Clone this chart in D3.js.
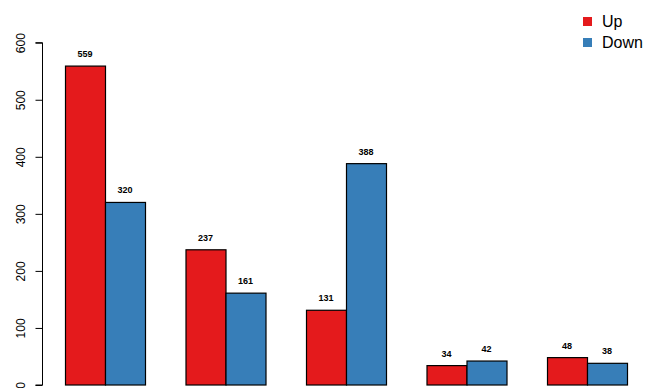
<!DOCTYPE html>
<html>
<head>
<meta charset="utf-8">
<script src="https://d3js.org/d3.v7.min.js"></script>
<style>
  body { margin: 0; background: #fff; }
  svg { display: block; font-family: "Liberation Sans", Arial, sans-serif; }
</style>
</head>
<body>
<svg id="chart" width="646" height="388"></svg>
<script>
// data
const groups = ["g1", "g2", "g3", "g4", "g5"];
const series = ["Up", "Down"];
const upValues = [559, 237, 131, 34, 48];
const downValues = [320, 161, 388, 42, 38];
const yTicks = [0, 100, 200, 300, 400, 500, 600];
const colors = ["#E41A1C", "#377EB8"];

const svg = d3.select("#chart");

const y = d3.scaleLinear().domain([0, 600]).range([385, 42.7]);
// group positions: 2 bars of 40px + 40px gap
const x0 = d3.scalePoint().domain(groups).range([65, 547]);
const x1 = d3.scaleBand().domain(series).range([0, 80]);

const data = groups.map((g, i) => ({ g, i, vals: [upValues[i], downValues[i]] }));

const gg = svg.selectAll("g.grp").data(data).enter().append("g")
  .attr("class", "grp")
  .attr("transform", d => `translate(${x0(d.g)},0)`);

gg.selectAll("rect").data(d => d.vals.map((v, k) => ({ v, k })))
  .enter().append("rect")
  .attr("x", d => x1(series[d.k]) + 0.5)
  .attr("y", d => y(d.v))
  .attr("width", x1.bandwidth())
  .attr("height", d => y(0) - y(d.v))
  .attr("fill", d => colors[d.k])
  .attr("stroke", "#000")
  .attr("stroke-width", 1.2);

gg.selectAll("text").data(d => d.vals.map((v, k) => ({ v, k })))
  .enter().append("text")
  .attr("x", d => x1(series[d.k]) + x1.bandwidth() / 2)
  .attr("y", d => y(d.v) - 9)
  .attr("text-anchor", "middle")
  .attr("font-size", 9)
  .attr("font-weight", "bold")
  .attr("fill", "#000")
  .text(d => d.v);

// y axis
const yAxis = d3.axisLeft(y).tickValues(yTicks).tickSize(7).tickPadding(12);
const ya = svg.append("g").attr("transform", "translate(42.5,0)").call(yAxis);
ya.select(".domain").attr("d", `M-7,${y(600)}H0V${y(0)}H-7`).attr("stroke", "#000");
ya.selectAll(".tick line").attr("stroke", "#000");
ya.selectAll(".tick text")
  .attr("font-size", 12)
  .attr("font-family", "Liberation Sans, Arial, sans-serif")
  .attr("fill", "#000")
  .attr("text-anchor", "middle")
  .attr("x", -22).attr("y", 0).attr("dy", "0.35em")
  .attr("transform", "rotate(-90, -22, 0)");

// legend
const leg = svg.append("g").attr("transform", "translate(583,0)");
series.forEach((s, k) => {
  leg.append("rect").attr("x", 0).attr("y", 17 + k * 21).attr("width", 9).attr("height", 9).attr("fill", colors[k]);
  leg.append("text").attr("x", 19).attr("y", 27 + k * 21).attr("font-size", 16).attr("fill", "#000").text(s);
});
</script>
</body>
</html>
